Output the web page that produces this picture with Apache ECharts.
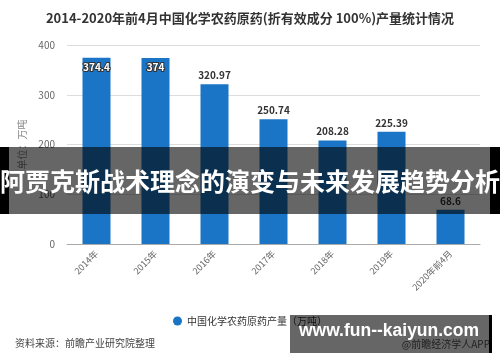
<!DOCTYPE html>
<html>
<head>
<meta charset="utf-8">
<script src="https://cdn.jsdelivr.net/npm/echarts@6/dist/echarts.min.js"></script>
<style>html,body{margin:0;padding:0;background:#fff;}#c{width:500px;height:362px;}</style>
</head>
<body>
<div id="c"></div>
<script>
const categories = ['2014年','2015年','2016年','2017年','2018年','2019年','2020年前4月'];
const production = [374.4, 374, 320.97, 250.74, 208.28, 225.39, 68.6];
const yTicks = [0, 100, 200, 300, 400];
const seriesName = '中国化学农药原药产量（万吨）';
const titleText = '2014-2020年前4月中国化学农药原药(折有效成分 100%)产量统计情况';
const sourceText = '资料来源：前瞻产业研究院整理';
const creditText = '@前瞻经济学人APP';
const bannerText = '阿贾克斯战术理念的演变与未来发展趋势分析';
const watermarkText = 'www.fun--kaiyun.com';

const FONT = '"Noto Sans CJK SC", "Noto Sans", sans-serif';
const chart = echarts.init(document.getElementById('c'));

const barData = production.map((v, i) => {
  const d = { value: v };
  if (v > 360) {
    d.label = { position: 'insideTop', distance: 4, color: '#fff', textBorderColor: '#333', textBorderWidth: 2 };
  }
  return d;
});

chart.setOption({
  animation: false,
  textStyle: { fontFamily: FONT },
  title: {
    text: titleText, left: 'center', top: 7,
    textStyle: { fontSize: 13, fontWeight: 'bold', color: '#333', fontFamily: FONT }
  },
  grid: { left: 67, right: 20, top: 45, bottom: 118 },
  legend: {
    data: [seriesName], top: 311, left: 'center', icon: 'circle',
    itemWidth: 9, itemHeight: 9, itemGap: 6,
    textStyle: { fontSize: 10, color: '#333', fontFamily: FONT }
  },
  xAxis: {
    type: 'category', data: categories,
    axisLine: { lineStyle: { color: '#aaa' } },
    axisTick: { alignWithLabel: true, length: 4, lineStyle: { color: '#aaa' } },
    axisLabel: { rotate: 45, fontSize: 9, color: '#666', margin: 8, fontFamily: FONT }
  },
  yAxis: {
    type: 'value', min: yTicks[0], max: yTicks[yTicks.length - 1], interval: 100,
    name: '单位：万吨', nameLocation: 'middle', nameGap: 34, nameRotate: 90,
    nameTextStyle: { fontSize: 10, color: '#888', fontFamily: FONT },
    axisLine: { show: false }, axisTick: { show: false },
    axisLabel: { fontSize: 10, color: '#666', margin: 12, fontFamily: FONT },
    splitLine: { lineStyle: { color: '#ddd' } }
  },
  series: [{
    name: seriesName, type: 'bar', data: barData, barWidth: 28,
    itemStyle: { color: '#1a75c6' },
    label: { show: true, position: 'top', distance: 4, fontSize: 10, fontWeight: 'bold', color: '#333', fontFamily: FONT }
  }],
  graphic: [
    { type: 'text', left: 15, top: 338, z: 50,
      style: { text: sourceText, fill: '#444', font: '10px ' + FONT } },
    { type: 'text', right: 10, top: 339, z: 50,
      style: { text: creditText, fill: '#555', font: '10px ' + FONT } },
    { type: 'rect', shape: { x: 0, y: 147, width: 500, height: 67 }, z: 100,
      style: { fill: 'rgba(0,0,0,0.6)' } },
    { type: 'rect', shape: { x: 0, y: 147, width: 9, height: 67 }, z: 101,
      style: { fill: '#000' } },
    { type: 'rect', shape: { x: 490, y: 147, width: 10, height: 67 }, z: 101,
      style: { fill: '#000' } },
    { type: 'text', x: 250, y: 181, z: 102,
      style: { text: bannerText, fill: '#fff', font: 'bold 25px ' + FONT, textAlign: 'center', textVerticalAlign: 'middle' } },
    { type: 'rect', shape: { x: 290, y: 315, width: 200, height: 38 }, z: 100,
      style: { fill: 'rgba(0,0,0,0.6)' } },
    { type: 'rect', shape: { x: 489, y: 315, width: 3, height: 38 }, z: 101,
      style: { fill: '#000' } },
    { type: 'text', x: 389, y: 331, z: 102,
      style: { text: watermarkText, fill: '#fff', font: 'bold 17.5px "Liberation Sans", Arial, sans-serif', textAlign: 'center', textVerticalAlign: 'middle' } }
  ]
});
</script>
</body>
</html>
